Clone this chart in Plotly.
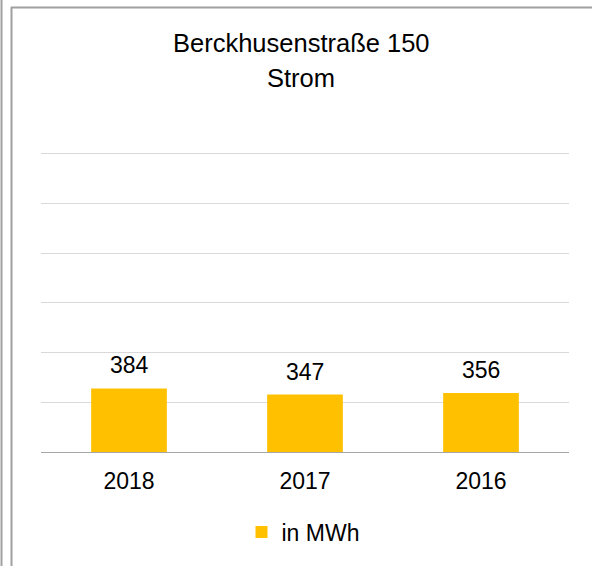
import plotly.graph_objects as go

years = ["2018", "2017", "2016"]
values = [384, 347, 356]
series_name = "in MWh"
title_lines = ["Berckhusenstraße 150", "Strom"]

W, H = 592, 566
L, R, T, B = 41, 23, 149, 114
pw, ph = W - L - R, H - T - B
FONT = "Liberation Sans, Arial"

def px_x(p):
    return (p - L) / pw

def px_y(p):
    return (H - B - p) / ph

fig = go.Figure()
fig.add_trace(go.Bar(
    x=years, y=values, name=series_name,
    marker=dict(color="#FFC000", line=dict(width=0)),
    width=0.43, showlegend=True,
))

for i, yv in enumerate(values):
    fig.add_annotation(x=i, y=yv, text=str(yv), showarrow=False,
                       yanchor="bottom", yshift=8,
                       font=dict(size=23, color="#000000", family=FONT))

for line, cy in zip(title_lines, [43, 78]):
    fig.add_annotation(xref="paper", yref="paper", x=px_x(301), y=px_y(cy),
                       text=line, showarrow=False, xanchor="center", yanchor="middle",
                       font=dict(size=25.5, color="#000000", family=FONT))

line_col = "#a0a0a0"
shapes = [
    dict(type="line", xref="paper", yref="paper", x0=px_x(1.5), x1=px_x(1.5), y0=px_y(0), y1=px_y(H), line=dict(color=line_col, width=2)),
    dict(type="line", xref="paper", yref="paper", x0=px_x(11.5), x1=px_x(11.5), y0=px_y(7), y1=px_y(H), line=dict(color=line_col, width=2)),
    dict(type="line", xref="paper", yref="paper", x0=px_x(11), x1=px_x(W), y0=px_y(7.5), y1=px_y(7.5), line=dict(color=line_col, width=2)),
]

fig.update_layout(
    width=W, height=H,
    margin=dict(l=L, r=R, t=T, b=B),
    paper_bgcolor="white", plot_bgcolor="white",
    font=dict(family=FONT, size=23, color="#000000"),
    xaxis=dict(type="category", range=[-0.5, 2.5], showgrid=False, showline=True,
               linecolor="#a6a6a6", linewidth=1,
               ticks="", tickfont=dict(size=23), ticklabelstandoff=8),
    yaxis=dict(range=[0, 1830], dtick=300, showgrid=True, gridcolor="#d9d9d9", gridwidth=1,
               showticklabels=False, zeroline=False, showline=False),
    legend=dict(orientation="h", x=px_x(303), xanchor="center", y=px_y(532), yanchor="middle",
                font=dict(size=23)),
    shapes=shapes,
    bargap=0.57,
)

fig.write_html("out.html", config={"displayModeBar": False},
               post_script="document.body.style.margin='0';")
